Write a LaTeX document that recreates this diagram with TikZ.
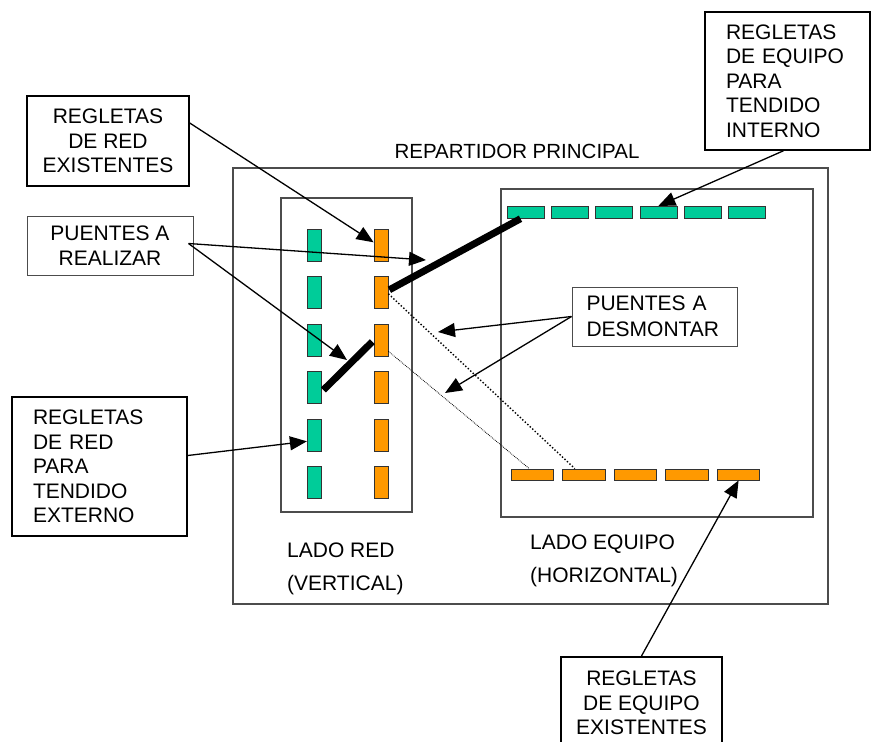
\documentclass[tikz,border=0pt]{standalone}
\usepackage{fontspec}
\setmainfont{Liberation Sans}
\usetikzlibrary{arrows.meta,calc}

\begin{document}
\begin{tikzpicture}[x=1pt,y=-1pt]

\definecolor{verdereg}{RGB}{0,204,153}
\definecolor{naranjareg}{RGB}{255,153,0}

\def\pasov{47.5}
\def\pasoverde{44.3}
\def\pasonaranja{51.6}

\tikzset{texto/.style={font=\fontsize{21}{24.5}\selectfont, inner sep=0pt}}
\tikzset{nota/.style={texto, draw, line width=1.5pt}}
\tikzset{notafina/.style={texto, draw=black!70, line width=1pt}}
\tikzset{marco/.style={draw=black!70, line width=1.2pt}}
\tikzset{regv/.style={draw=black!80, line width=0.8pt, minimum width=14pt, minimum height=32pt, inner sep=0pt}}
\tikzset{regh/.style={draw=black!80, line width=0.8pt, minimum height=12pt, inner sep=0pt}}
\tikzset{flecha/.style={line width=1.3pt, -{Triangle[length=17pt,width=14pt]}}}
\tikzset{puente/.style={line width=7pt}}

\useasboundingbox (0,0) rectangle (871,742);

% repartidor y sus dos lados
\node[texto, font=\fontsize{20.5}{24}\selectfont] (titulo) at (517,151) {REPARTIDOR PRINCIPAL};
\draw[marco] (233,168) rectangle (828,604);
\draw[marco] (281,198) rectangle (412,512);
\draw[marco] (501,189) rectangle (813,517);

\node[texto, anchor=north west, align=left] (ladored) at (287,542.5) {LADO RED\\[8.5pt](VERTICAL)};
\node[texto, anchor=north west, align=left] (ladoequipo) at (530,534.2) {LADO EQUIPO\\[8.5pt](HORIZONTAL)};

% regletas
\foreach \i in {1,...,6} {
  \node[regv, fill=verdereg] (rv\i) at (314.3, 197.8+\pasov*\i) {};
  \node[regv, fill=naranjareg] (ro\i) at (381.0, 197.8+\pasov*\i) {};
}
\foreach \i in {1,...,6}
  \node[regh, minimum width=37pt, fill=verdereg] (gh\i) at (481.2+\pasoverde*\i, 212.3) {};
\foreach \i in {1,...,5}
  \node[regh, minimum width=42.5pt, minimum height=11pt, fill=naranjareg] (oh\i) at (480.6+\pasonaranja*\i, 474.5) {};

% puentes
\draw[puente] ($(ro2.east)+(1,-3)$) -- ($(gh1.south)+(-5,0)$);
\draw[puente] ($(rv4.east)+(1.7,2.2)$) -- ($(ro3.west)+(-1.3,1.4)$);
\draw[line width=1.4pt, dotted] ($(ro2.east)+(0,1)$) -- ($(oh2.north)+(-9,0)$);
\draw[line width=0.8pt, densely dotted] ($(ro3.east)+(0,11)$) -- ($(oh1.north)+(-3,0)$);

% notas
\node[nota, align=center, minimum width=162pt, minimum height=90pt] (redexist) at (108,141) {REGLETAS\\DE RED\\EXISTENTES};
\node[notafina, align=center, minimum width=166pt, minimum height=59pt] (puentesreal) at (110,245.5) {PUENTES A\\REALIZAR};
\node[nota, align=left, text width=133pt, inner xsep=21pt, minimum height=139pt] (externo) at (99.5,466.5) {REGLETAS\\DE RED\\PARA\\TENDIDO\\EXTERNO};
\node[nota, align=left, text width=123pt, inner xsep=21pt, minimum height=138pt] (interno) at (787.5,81) {REGLETAS\\DE EQUIPO\\PARA\\TENDIDO\\INTERNO};
\node[notafina, align=left, text width=136pt, inner xsep=14.5pt, minimum height=59pt] (desmontar) at (654.5,316.5) {PUENTES A\\[2pt]DESMONTAR};
\node[nota, align=center, minimum width=161pt, inner ysep=14.5pt, anchor=north] (existentes) at (641.5,656) {REGLETAS\\DE EQUIPO\\EXISTENTES};

% flechas
\coordinate (tipA) at (426,260);
\coordinate (tipB) at (347,360);
\coordinate (tipC) at (438,332);
\coordinate (tipD) at (445,393);

\draw[flecha] ($(redexist.east)+(0,-18)$) -- ($(ro1.west)+(0,-3)$);
\draw[flecha] ($(puentesreal.east)+(-5,-2)$) -- (tipA);
\draw[flecha] ($(puentesreal.east)+(-5,-2)$) -- (tipB);
\draw[flecha] ($(externo.east)+(0,-11)$) -- ($(rv5.west)+(0,6)$);
\draw[flecha] ($(interno.south)+(-4,0)$) -- (gh4.north);
\draw[flecha] (desmontar.west) -- (tipC);
\draw[flecha] (desmontar.west) -- (tipD);
\draw[flecha] (existentes.north) -- (oh5.south);

\end{tikzpicture}
\end{document}
